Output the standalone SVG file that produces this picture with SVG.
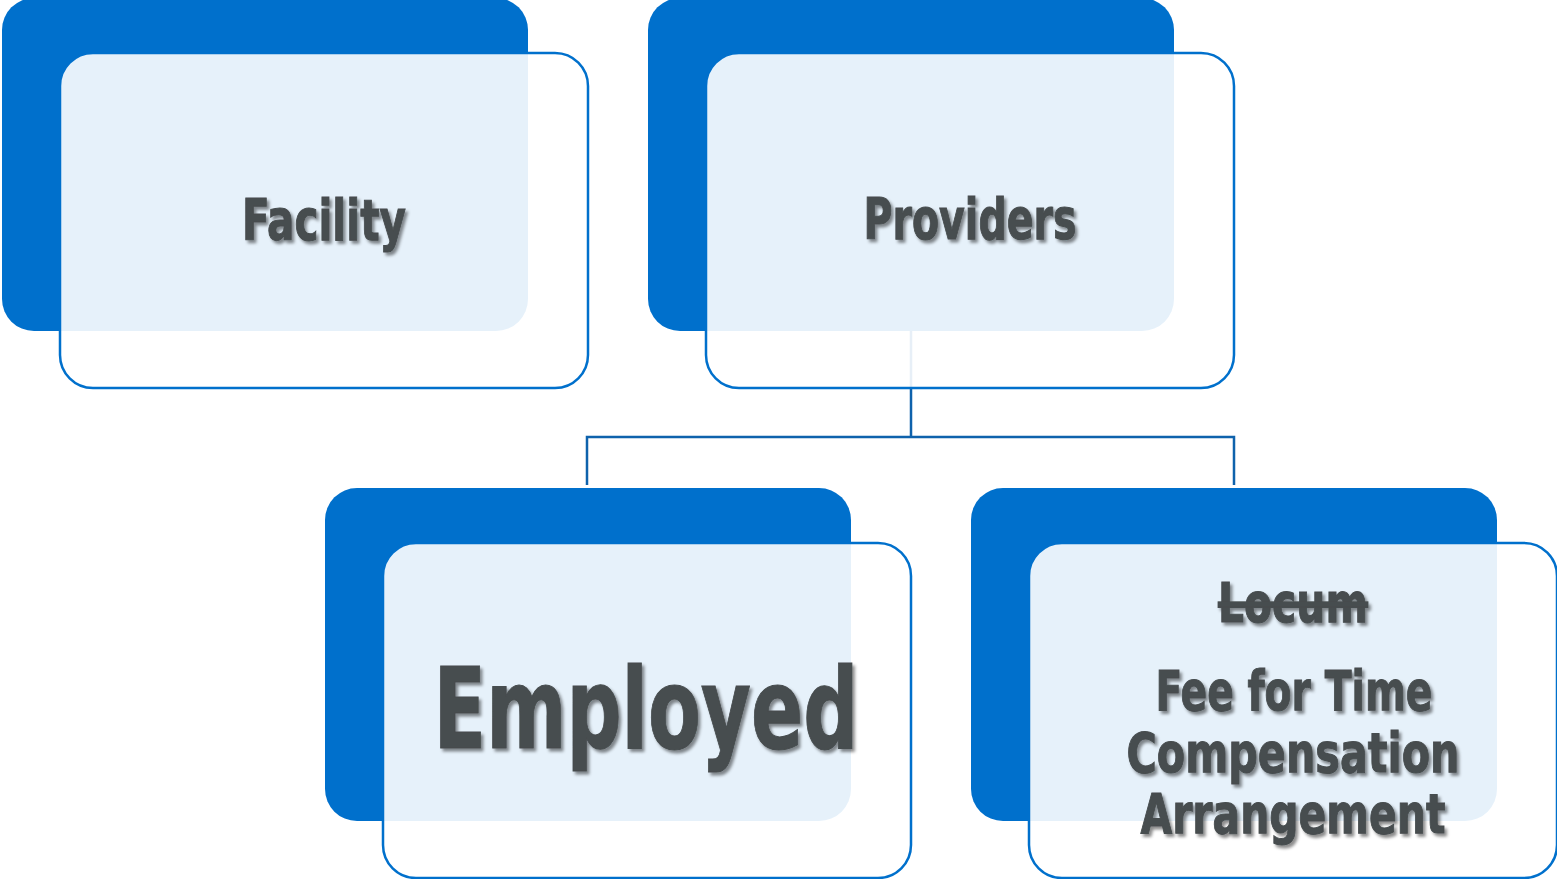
<svg xmlns="http://www.w3.org/2000/svg" width="1557" height="879" viewBox="0 0 1557 879">
<style>
.back{fill:#0070CC;}
.front{fill:#FFFFFF;fill-opacity:0.9;stroke:#0070CC;stroke-width:2.5;}
.conn{fill:none;stroke:#0E62AC;stroke-width:2.5;}
.lbl{font-family:"Liberation Sans Narrow","DejaVu Sans Condensed","Liberation Sans",sans-serif;font-weight:bold;fill:#474D4F;stroke:#474D4F;stroke-width:1;text-anchor:middle;filter:url(#sh);}
</style>
<defs>
<filter id="sh" x="-10%" y="-20%" width="120%" height="150%">
<feDropShadow dx="2.5" dy="3" stdDeviation="1.5" flood-color="#000000" flood-opacity="0.45"/>
</filter>
</defs>
<rect width="1557" height="879" fill="#FFFFFF"/>
<g id="connectors">
<path class="conn" d="M911,331 V437 M587,485 V437 H1234 V485"/>
</g>
<g id="node-facility">
<rect class="back" x="2" y="-2" width="526" height="333" rx="32"/>
<rect class="front" x="60" y="53" width="528" height="335" rx="33"/>
<text class="lbl" x="324" y="240" font-size="57" textLength="164" lengthAdjust="spacingAndGlyphs">Facility</text>
</g>
<g id="node-providers">
<rect class="back" x="648" y="-2" width="526" height="333" rx="32"/>
<rect class="front" x="706" y="53" width="528" height="335" rx="33"/>
<text class="lbl" x="970" y="239" font-size="57" textLength="213" lengthAdjust="spacingAndGlyphs">Providers</text>
</g>
<g id="node-employed">
<rect class="back" x="325" y="488" width="526" height="333" rx="32"/>
<rect class="front" x="383" y="543" width="528" height="335" rx="33"/>
<text class="lbl" x="646" y="748" font-size="113" textLength="425" lengthAdjust="spacingAndGlyphs">Employed</text>
</g>
<g id="node-locum">
<rect class="back" x="971" y="488" width="526" height="333" rx="32"/>
<rect class="front" x="1029" y="543" width="528" height="335" rx="33"/>
<text class="lbl" x="1293" y="622" font-size="56" textLength="150" lengthAdjust="spacingAndGlyphs" text-decoration="line-through">Locum</text>
<text class="lbl" x="1294" y="710" font-size="56" textLength="277" lengthAdjust="spacingAndGlyphs">Fee for Time</text>
<text class="lbl" x="1293" y="772" font-size="55" textLength="333" lengthAdjust="spacingAndGlyphs">Compensation</text>
<text class="lbl" x="1293" y="833" font-size="55" textLength="305" lengthAdjust="spacingAndGlyphs">Arrangement</text>
</g>
</svg>
